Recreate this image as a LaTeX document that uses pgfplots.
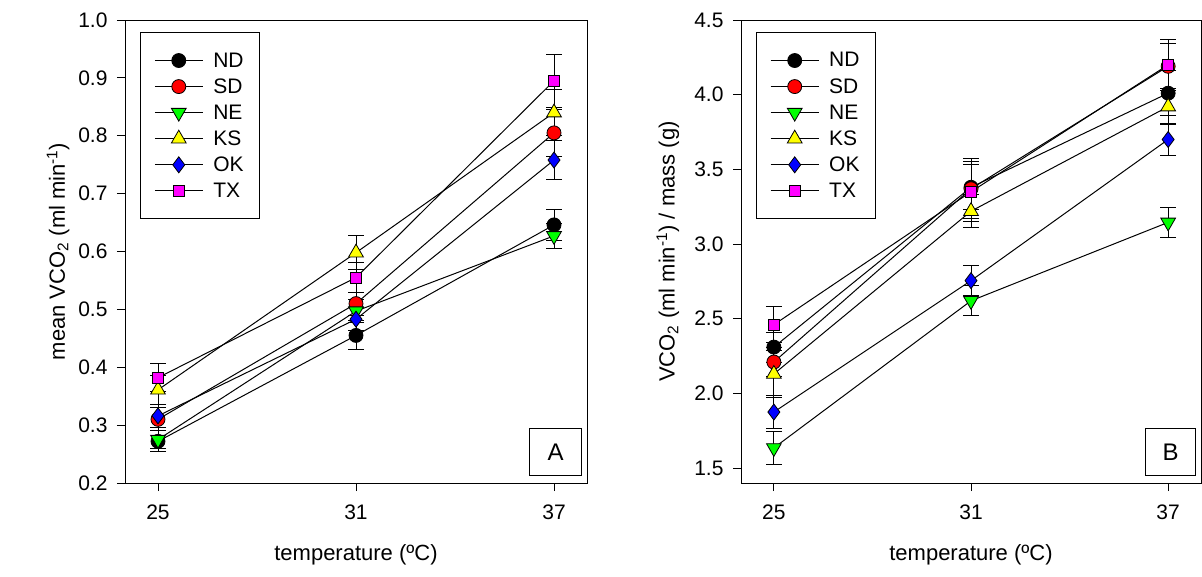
\documentclass[border=0pt]{standalone}
\usepackage{fontspec}
\setmainfont{Liberation Sans}
\usepackage{pgfplots}
\pgfplotsset{compat=1.18}
\usepackage{pgfplotstable}

\pgfplotstableread{
T ND NDe SD SDe NE NEe KS KSe OK OKe TX TXe
25 0.272 0.018 0.310 0.020 0.275 0.015 0.361 0.025 0.316 0.020 0.382 0.024
31 0.455 0.025 0.510 0.020 0.497 0.020 0.598 0.029 0.483 0.020 0.555 0.026
37 0.646 0.027 0.805 0.040 0.627 0.022 0.840 0.040 0.758 0.033 0.895 0.046
}\tableA

\pgfplotstableread{
T ND NDe SD SDe NE NEe KS KSe OK OKe TX TXe
25 2.310 0.10 2.210 0.10 1.635 0.11 2.130 0.16 1.875 0.11 2.460 0.12
31 3.380 0.15 3.370 0.20 2.620 0.10 3.220 0.11 2.755 0.10 3.350 0.20
37 4.010 0.15 4.190 0.15 3.145 0.10 3.920 0.12 3.700 0.105 4.200 0.17
}\tableB

\definecolor{cND}{RGB}{0,0,0}
\definecolor{cSD}{RGB}{255,0,0}
\definecolor{cNE}{RGB}{0,255,0}
\definecolor{cKS}{RGB}{255,255,0}
\definecolor{cOK}{RGB}{0,0,255}
\definecolor{cTX}{RGB}{255,0,255}

\pgfplotsset{
  panel/.style={
    scale only axis,
    xmin=24, xmax=38,
    xtick={25,31,37},
    tick align=outside,
    xtick pos=bottom, ytick pos=left,
    major tick length=8pt,
    axis line style={line width=1pt},
    every tick/.style={black, line width=1pt},
    tick label style={font=\fontsize{21}{21}\selectfont},
    xticklabel style={yshift=-10pt},
    yticklabel style={xshift=-6pt, /pgf/number format/.cd, fixed, fixed zerofill, precision=1},
    label style={font=\fontsize{22}{22}\selectfont},
    /pgf/number format/assume math mode=true,
    xlabel={temperature (ºC)},
    xlabel style={at={(axis description cs:0.5,0)}, anchor=center, yshift=-72pt},
    legend cell align=left,
    legend image code/.code={\draw[mark repeat=2,mark phase=2] plot coordinates {(0pt,0pt) (24pt,0pt) (48pt,0pt)};},
    legend style={at={(0.032,0.974)}, anchor=north west, draw=black, line width=1pt,
      font=\fontsize{21}{21}\selectfont, inner xsep=14pt, inner ysep=18pt, row sep=6pt,
      /tikz/every odd column/.append style={column sep=8pt}},
    error bars/y dir=both,
    error bars/y explicit,
    error bars/error bar style={line width=1pt, black},
    error bars/error mark options={black, line width=1pt, mark size=8pt, rotate=90},
  },
  sND/.style={black, line width=1pt, mark=*, mark size=7pt, mark options={fill=cND, draw=black, line width=0.8pt}},
  sSD/.style={black, line width=1pt, mark=*, mark size=7pt, mark options={fill=cSD, draw=black, line width=0.8pt}},
  sNE/.style={black, line width=1pt, mark=triangle*, mark size=8.5pt, mark options={fill=cNE, draw=black, line width=0.8pt, rotate=180}},
  sKS/.style={black, line width=1pt, mark=triangle*, mark size=8.5pt, mark options={fill=cKS, draw=black, line width=0.8pt}},
  sOK/.style={black, line width=1pt, mark=diamond*, mark size=8pt, mark options={fill=cOK, draw=black, line width=0.8pt}},
  sTX/.style={black, line width=1pt, mark=square*, mark size=5.5pt, mark options={fill=cTX, draw=black, line width=0.8pt}},
}

\begin{document}
\begin{tikzpicture}
\useasboundingbox (0pt,0pt) rectangle (1202pt,-576pt);

\begin{axis}[panel, at={(125pt,-483pt)}, anchor=south west,
  width=462pt, height=463pt,
  ymin=0.2, ymax=1.0, ytick={0.2,0.3,...,1.0},
  ylabel={mean VCO\textsubscript{2} (ml min\textsuperscript{-1})},
  ylabel style={at={(axis description cs:-0.145,0.5)}, anchor=center}]
\addplot[sND] table[x=T, y=ND, y error=NDe] {\tableA};
\addlegendentry{ND}
\addplot[sSD] table[x=T, y=SD, y error=SDe] {\tableA};
\addlegendentry{SD}
\addplot[sNE] table[x=T, y=NE, y error=NEe] {\tableA};
\addlegendentry{NE}
\addplot[sKS] table[x=T, y=KS, y error=KSe] {\tableA};
\addlegendentry{KS}
\addplot[sOK] table[x=T, y=OK, y error=OKe] {\tableA};
\addlegendentry{OK}
\addplot[sTX] table[x=T, y=TX, y error=TXe] {\tableA};
\addlegendentry{TX}
\node[draw=black, line width=1pt, minimum width=52pt, minimum height=47pt, anchor=south east,
  font=\fontsize{24}{24}\selectfont] at ([xshift=-5pt,yshift=7pt]rel axis cs:1,0) {A};
\end{axis}

\begin{axis}[panel, at={(741pt,-483pt)}, anchor=south west,
  width=460pt, height=463pt,
  ymin=1.4, ymax=4.5, ytick={1.5,2.0,...,4.5},
  ylabel={VCO\textsubscript{2} (ml min\textsuperscript{-1}) / mass (g)},
  ylabel style={at={(axis description cs:-0.159,0.5)}, anchor=center}]
\addplot[sND] table[x=T, y=ND, y error=NDe] {\tableB};
\addlegendentry{ND}
\addplot[sSD] table[x=T, y=SD, y error=SDe] {\tableB};
\addlegendentry{SD}
\addplot[sNE] table[x=T, y=NE, y error=NEe] {\tableB};
\addlegendentry{NE}
\addplot[sKS] table[x=T, y=KS, y error=KSe] {\tableB};
\addlegendentry{KS}
\addplot[sOK] table[x=T, y=OK, y error=OKe] {\tableB};
\addlegendentry{OK}
\addplot[sTX] table[x=T, y=TX, y error=TXe] {\tableB};
\addlegendentry{TX}
\node[draw=black, line width=1pt, minimum width=50pt, minimum height=47pt, anchor=south east,
  font=\fontsize{24}{24}\selectfont] at ([xshift=-5pt,yshift=7pt]rel axis cs:1,0) {B};
\end{axis}
\end{tikzpicture}
\end{document}
